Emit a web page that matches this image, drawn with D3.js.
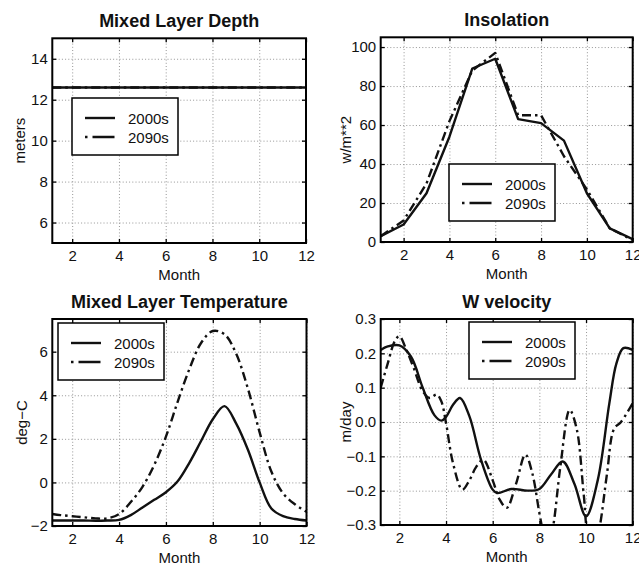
<!DOCTYPE html>
<html>
<head>
<meta charset="utf-8">
<script src="https://cdn.jsdelivr.net/npm/d3@7"></script>
<style>
  body { margin: 0; background: #fff; }
  svg { display: block; font-family: "Liberation Sans", Arial, Helvetica, sans-serif; }
</style>
</head>
<body>
<svg id="fig" width="639" height="568"></svg>
<script>
// ---- data ----
const seriesNames = ["2000s", "2090s"];
const monthTicks = [2, 4, 6, 8, 10, 12];

// Mixed layer depth (m)
const depthMonths = [1.15, 12];
const depth2000s = [12.6, 12.6];
const depth2090s = [12.6, 12.6];
const depthTicks = [6, 8, 10, 12, 14];

// Insolation (W/m^2), monthly
const insolMonths = [1, 2, 3, 4, 5, 6, 7, 8, 9, 10, 11, 12];
const insol2000s = [3, 9, 25, 54, 89, 94, 63, 61, 52, 25, 7, 1.5];
const insol2090s = [3, 11, 30, 62, 88, 97, 65, 65, 44, 27, 7, 1];
const insolTicks = [0, 20, 40, 60, 80, 100];

// Mixed layer temperature (deg C)
const tempMonths = [1.15, 1.5, 2, 2.5, 3, 3.5, 4, 4.5, 5, 5.5, 6, 6.5, 7, 7.5, 8, 8.5, 9, 9.5, 10, 10.5, 11, 11.5, 12];
const temp2000s = [-1.75, -1.75, -1.75, -1.75, -1.76, -1.75, -1.72, -1.5, -1.15, -0.8, -0.45, 0.05, 0.9, 1.9, 2.9, 3.5, 2.7, 1.5, 0.0, -1.2, -1.55, -1.68, -1.75];
const temp2090s = [-1.45, -1.5, -1.55, -1.6, -1.65, -1.65, -1.45, -0.9, -0.2, 0.8, 2.1, 3.7, 5.2, 6.4, 6.95, 6.8, 5.9, 4.3, 2.3, 0.5, -0.5, -1.0, -1.35];
const tempTicks = [-2, 0, 2, 4, 6];

// Vertical velocity (m/day)
const wMonths2000s = [1.2, 1.5, 2, 2.5, 3, 3.5, 3.8, 4, 4.3, 4.6, 5, 5.5, 6, 6.2, 6.8, 7.5, 8, 8.5, 9, 9.5, 10, 10.5, 11, 11.3, 11.6, 12];
const w2000s = [0.21, 0.22, 0.223, 0.19, 0.10, 0.02, 0.004, 0.015, 0.05, 0.07, 0.017, -0.11, -0.197, -0.207, -0.195, -0.2, -0.195, -0.153, -0.115, -0.18, -0.275, -0.17, 0.055, 0.17, 0.215, 0.21];
const wMonths2090s = [1.2, 1.5, 1.8, 2, 2.3, 2.6, 3, 3.3, 3.6, 3.8, 4, 4.3, 4.7, 5, 5.3, 5.6, 6, 6.3, 6.6, 7, 7.4, 7.7, 8, 8.2, 8.4, 8.6, 8.9, 9.3, 9.6, 9.9, 10.1, 10.4, 10.6, 10.9, 11.2, 11.5, 12];
const w2090s = [0.10, 0.17, 0.235, 0.25, 0.21, 0.16, 0.09, 0.07, 0.08, 0.06, -0.003, -0.12, -0.197, -0.17, -0.13, -0.11, -0.17, -0.226, -0.25, -0.18, -0.095, -0.15, -0.265, -0.33, -0.36, -0.3, -0.13, 0.035, -0.02, -0.21, -0.33, -0.36, -0.3, -0.15, -0.02, 0.0, 0.055];
const wTicks = [-0.3, -0.2, -0.1, 0.0, 0.1, 0.2, 0.3];

// ---- panel layout ----
const panels = [
  { id: "depth", title: "Mixed Layer Depth", ylabel: "meters",
    box: [52.3, 38.3, 306, 243], xDomain: [1.15, 12], yDomain: [5, 15],
    yTicks: depthTicks, yFmt: d3.format("d"), curve: d3.curveLinear,
    series: [[depthMonths, depth2000s], [depthMonths, depth2090s]],
    legend: [72, 98], ylabelX: 25 },
  { id: "insol", title: "Insolation", ylabel: "w/m**2",
    box: [380.7, 37.3, 632.7, 242], xDomain: [1, 12], yDomain: [0, 105],
    yTicks: insolTicks, yFmt: d3.format("d"), curve: d3.curveLinear,
    series: [[insolMonths, insol2000s], [insolMonths, insol2090s]],
    legend: [449, 164], ylabelX: 351 },
  { id: "temp", title: "Mixed Layer Temperature", ylabel: "deg\u2212C",
    box: [52.3, 319, 306.5, 526], xDomain: [1.15, 12], yDomain: [-2, 7.5],
    yTicks: tempTicks, yFmt: d3.format("d"), curve: d3.curveCatmullRom.alpha(0.5),
    series: [[tempMonths, temp2000s], [tempMonths, temp2090s]],
    legend: [58, 323], ylabelX: 27 },
  { id: "wvel", title: "W velocity", ylabel: "m/day",
    box: [380.7, 319, 632.7, 525], xDomain: [1.2, 12], yDomain: [-0.3, 0.3],
    yTicks: wTicks, yFmt: d3.format(".1f"), curve: d3.curveCatmullRom.alpha(0.5),
    series: [[wMonths2000s, w2000s], [wMonths2090s, w2090s]],
    legend: [469, 322], ylabelX: 351 }
];

const dashStyles = [null, "9,4,2.5,4"];
const svg = d3.select("#fig");
const defs = svg.append("defs");

panels.forEach(p => {
  const [x0, y0, x1, y1] = p.box;
  const w = x1 - x0, h = y1 - y0;
  const x = d3.scaleLinear().domain(p.xDomain).range([0, w]);
  const y = d3.scaleLinear().domain(p.yDomain).range([h, 0]);
  const g = svg.append("g").attr("transform", `translate(${x0},${y0})`);

  defs.append("clipPath").attr("id", "clip-" + p.id)
    .append("rect").attr("x", 0).attr("y", 0).attr("width", w).attr("height", h);

  // dotted grid
  const gridStyle = sel => {
    sel.select(".domain").remove();
    sel.selectAll("line").attr("stroke", "#8a8a8a").attr("stroke-width", 0.9)
      .attr("stroke-dasharray", "1,2.2");
  };
  g.append("g").attr("transform", `translate(0,${h})`)
    .call(d3.axisBottom(x).tickValues(monthTicks).tickSize(-h).tickFormat(""))
    .call(gridStyle);
  g.append("g")
    .call(d3.axisLeft(y).tickValues(p.yTicks).tickSize(-w).tickFormat(""))
    .call(gridStyle);

  // data lines
  const lineGen = d3.line().x(d => x(d[0])).y(d => y(d[1])).curve(p.curve);
  p.series.forEach(([xs, ys], i) => {
    const pts = xs.map((m, k) => [m, ys[k]]);
    g.append("path").datum(pts)
      .attr("clip-path", `url(#clip-${p.id})`)
      .attr("fill", "none").attr("stroke", "#111").attr("stroke-width", 2.4)
      .attr("stroke-linejoin", "round")
      .attr("stroke-dasharray", dashStyles[i])
      .attr("d", lineGen);
  });

  // axes with inward ticks
  const axStyle = sel => {
    sel.select(".domain").remove();
    sel.selectAll("line").attr("stroke", "#000").attr("stroke-width", 1.3);
    sel.selectAll("text").attr("fill", "#111").style("font-size", "15px")
      .style("font-family", '"Liberation Sans", Arial, sans-serif');
  };
  g.append("g").attr("transform", `translate(0,${h})`)
    .call(d3.axisBottom(x).tickValues(monthTicks).tickSize(-4).tickPadding(7).tickFormat(d3.format("d")))
    .call(axStyle);
  g.append("g")
    .call(d3.axisLeft(y).tickValues(p.yTicks).tickSize(-4).tickPadding(4.5).tickFormat(p.yFmt))
    .call(axStyle);
  g.append("g")
    .call(d3.axisTop(x).tickValues(monthTicks).tickSize(-4).tickFormat(""))
    .call(axStyle);
  g.append("g").attr("transform", `translate(${w},0)`)
    .call(d3.axisRight(y).tickValues(p.yTicks).tickSize(-4).tickFormat(""))
    .call(axStyle);

  // frame
  g.append("rect").attr("width", w).attr("height", h)
    .attr("fill", "none").attr("stroke", "#000").attr("stroke-width", 2);

  // title and axis labels
  svg.append("text").attr("x", x0 + w / 2).attr("y", y0 - 11.5)
    .attr("text-anchor", "middle").style("font-size", "18px").style("font-weight", "bold")
    .attr("fill", "#111").text(p.title);
  svg.append("text").attr("x", x0 + w / 2).attr("y", y1 + 37)
    .attr("text-anchor", "middle").style("font-size", "15px").attr("fill", "#111").text("Month");
  svg.append("text")
    .attr("transform", `translate(${p.ylabelX},${y0 + h / 2}) rotate(-90)`)
    .attr("text-anchor", "middle").style("font-size", "15px").attr("fill", "#111").text(p.ylabel);

  // legend
  const [lx, ly] = p.legend;
  const lg = svg.append("g").attr("transform", `translate(${lx},${ly})`);
  lg.append("rect").attr("width", 106).attr("height", 57)
    .attr("fill", "#fff").attr("stroke", "#000").attr("stroke-width", 1.5);
  seriesNames.forEach((name, i) => {
    const ry = 20 + i * 19;
    lg.append("line").attr("x1", 13).attr("x2", 43).attr("y1", ry).attr("y2", ry)
      .attr("stroke", "#111").attr("stroke-width", 2.4)
      .attr("stroke-dasharray", i === 1 ? "2.5,5,22" : null);
    lg.append("text").attr("x", 56).attr("y", ry + 5.5)
      .style("font-size", "15px").attr("fill", "#111").text(name);
  });
});
</script>
</body>
</html>
